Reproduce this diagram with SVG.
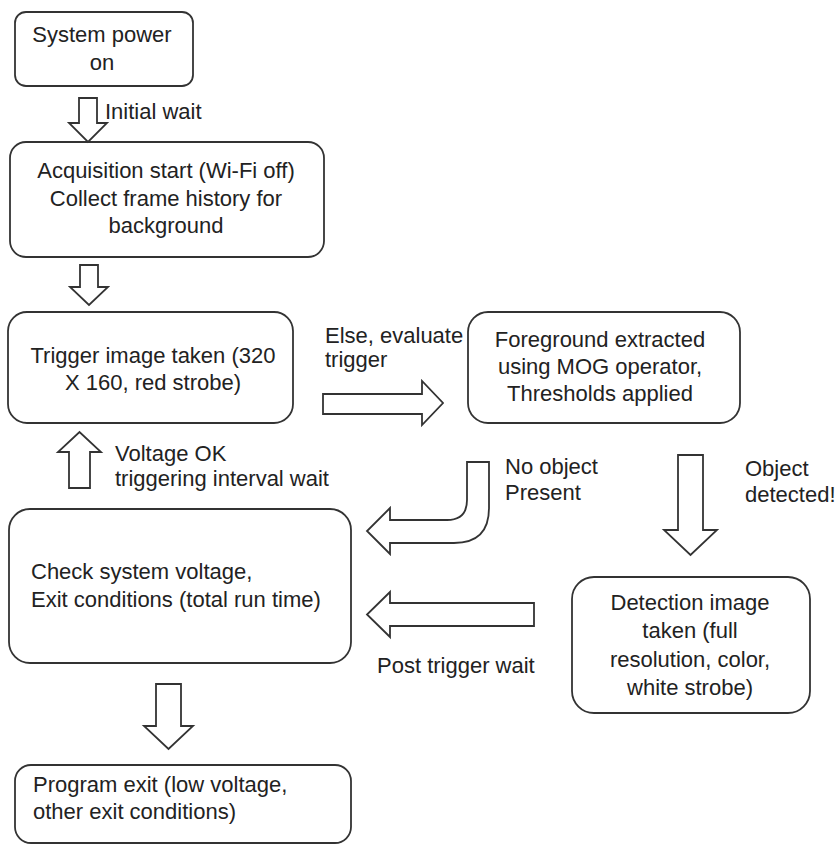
<svg xmlns="http://www.w3.org/2000/svg" width="836" height="846" viewBox="0 0 836 846">
  <style>
    .box { fill: #ffffff; stroke: #333333; stroke-width: 1.8; }
    .arrow { fill: #ffffff; stroke: #333333; stroke-width: 1.8; stroke-linejoin: miter; }
    text { font-family: "Liberation Sans", Arial, sans-serif; font-size: 22px; fill: #222222; }
    .c { text-anchor: middle; }
  </style>
  <rect width="836" height="846" fill="#ffffff"/>

  <!-- flowchart steps -->
  <g id="power-on">
    <rect class="box" x="15" y="12" width="178" height="74" rx="11"/>
    <text class="c" x="102" y="42">System power</text>
    <text class="c" x="102" y="70">on</text>
  </g>

  <g id="acquisition-start">
    <rect class="box" x="10" y="142" width="314" height="115" rx="16"/>
    <text class="c" x="166" y="178">Acquisition start (Wi-Fi off)</text>
    <text class="c" x="166" y="206">Collect frame history for</text>
    <text class="c" x="166" y="233">background</text>
  </g>

  <g id="trigger-image">
    <rect class="box" x="8" y="312" width="285" height="111" rx="19"/>
    <text class="c" x="153" y="363">Trigger image taken (320</text>
    <text class="c" x="153" y="390">X 160, red strobe)</text>
  </g>

  <g id="foreground">
    <rect class="box" x="468" y="312" width="272" height="111" rx="20"/>
    <text class="c" x="600" y="347">Foreground extracted</text>
    <text class="c" x="600" y="374">using MOG operator,</text>
    <text class="c" x="600" y="401">Thresholds applied</text>
  </g>

  <g id="check-voltage">
    <rect class="box" x="9" y="509" width="342" height="154" rx="21"/>
    <text x="31" y="579">Check system voltage,</text>
    <text x="31" y="607">Exit conditions (total run time)</text>
  </g>

  <g id="detection-image">
    <rect class="box" x="572" y="577" width="238" height="136" rx="22"/>
    <text class="c" x="690" y="610">Detection image</text>
    <text class="c" x="690" y="638">taken (full</text>
    <text class="c" x="690" y="667">resolution, color,</text>
    <text class="c" x="690" y="695">white strobe)</text>
  </g>

  <g id="program-exit">
    <rect class="box" x="15" y="765" width="336" height="78" rx="16"/>
    <text x="33" y="792">Program exit (low voltage,</text>
    <text x="33" y="819">other exit conditions)</text>
  </g>

  <!-- block arrows between steps, with their labels -->
  <g id="connectors">
    <polygon class="arrow" points="79,98 97,98 97,123 107,123 88,142 69,123 79,123"/>
    <text x="105" y="119">Initial wait</text>

    <polygon class="arrow" points="80,265 98,265 98,287 108,287 89,305 70,287 80,287"/>

    <polygon class="arrow" points="323,394 422,394 422,381 443,403 422,425 422,414 323,414"/>
    <text x="325" y="343">Else, evaluate</text>
    <text x="325" y="367">trigger</text>

    <polygon class="arrow" points="69,488 90,488 90,452 101,452 79.5,432 58,452 69,452"/>
    <text x="115" y="461">Voltage OK</text>
    <text x="115" y="486">triggering interval wait</text>

    <path class="arrow" d="M467,462 L489,462 L489,508 Q489,543 454,543 L390,543 L390,554 L367,531 L390,508 L390,520 L447,520 Q467,520 467,500 Z"/>
    <text x="505" y="474">No object</text>
    <text x="505" y="500">Present</text>

    <polygon class="arrow" points="678,455 703,455 703,530 717,530 690.5,555 664,530 678,530"/>
    <text x="745" y="476">Object</text>
    <text x="745" y="502">detected!</text>

    <polygon class="arrow" points="534,603 390,603 390,592 367,614.5 390,637 390,626 534,626"/>
    <text x="377" y="673">Post trigger wait</text>

    <polygon class="arrow" points="156,684 181,684 181,726 193,726 168.5,749 144,726 156,726"/>
  </g>
</svg>
